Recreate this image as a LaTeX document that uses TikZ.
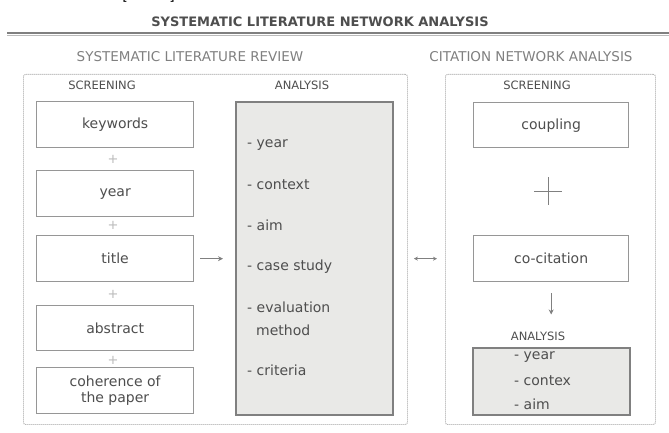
\documentclass[tikz,border=0pt]{standalone}
\usepackage{fontspec}
\setmainfont{DejaVu Sans}
\usetikzlibrary{arrows.meta}
\definecolor{txt}{HTML}{4E4E4E}
\definecolor{head}{HTML}{808080}
\definecolor{boxline}{HTML}{969696}
\definecolor{anafill}{HTML}{E9E9E7}
\definecolor{dotline}{HTML}{A6A6A6}
\definecolor{plusc}{HTML}{BBBBBB}
\tikzset{
  sbox/.style={draw=boxline, line width=1.3pt, minimum width=157pt, minimum height=46pt, anchor=north west, inner sep=1pt, text=txt, font=\fontsize{14}{15.5}\selectfont, align=center},
  anabox/.style={draw=head, fill=anafill, line width=1.6pt, anchor=north west},
  item/.style={anchor=west, inner sep=0pt, text=txt, font=\fontsize{14}{16}\selectfont},
  dotbox/.style={draw=dotline, line width=0.9pt, dash pattern=on 1pt off 1pt, rounded corners=2pt, anchor=north west},
  subhead/.style={text=head, font=\fontsize{13.5}{15}\selectfont, inner sep=0pt},
  smallhead/.style={text=txt, font=\fontsize{11.5}{13}\selectfont, inner sep=0pt},
  plusn/.style={text=plusc, font=\fontsize{13}{13}\selectfont, inner sep=0pt},
  arr/.style={draw=head, line width=1.3pt, -{Stealth[length=5pt,width=5pt]}},
  darr/.style={draw=head, line width=1pt, {Stealth[length=4pt,width=4pt]}-{Stealth[length=4pt,width=4pt]}},
}
\begin{document}
\begin{tikzpicture}[x=1pt,y=-1pt]
\useasboundingbox (0,0) rectangle (669,433);
\fill[white] (0,0) rectangle (669,433);
% cut-off reference brackets at the top
\node[anchor=base, text=black, font=\fontsize{14}{14}\selectfont, inner sep=0pt] (lbr) at (125,0.5) {[};
\node[anchor=base, text=black, font=\fontsize{14}{14}\selectfont, inner sep=0pt] (rbr) at (172,0.5) {]};
% title
\node[text=txt, font=\bfseries\fontsize{13}{14}\selectfont, inner sep=0pt] (title) at (320,22) {SYSTEMATIC LITERATURE NETWORK ANALYSIS};
\draw[draw=head, line width=1.2pt] (7,33) -- (669,33);
\draw[draw=plusc, line width=0.7pt] (7,35.2) -- (669,35.2);
% section headings
\node[subhead] (slr) at (190,57) {SYSTEMATIC LITERATURE REVIEW};
\node[subhead] (cna) at (531,57) {CITATION NETWORK ANALYSIS};
% dotted frames
\node[dotbox, minimum width=384pt, minimum height=350pt] (lbox) at (23,74) {};
\node[dotbox, minimum width=210pt, minimum height=350pt] (rbox) at (445,74) {};
% left screening
\node[smallhead] (scr1) at (102,85) {SCREENING};
\node[smallhead] (ana1) at (302,85) {ANALYSIS};
\node[sbox] (kw) at (36,101) {keywords};
\node[sbox] (yr) at (36,170) {year};
\node[sbox] (ti) at (36,235) {title};
\node[sbox, minimum height=45pt] (ab) at (36,305) {abstract};
\node[sbox] (co) at (36,367) {coherence of\\the paper};
\node[plusn] (p1) at (113,159) {+};
\node[plusn] (p2) at (113,225) {+};
\node[plusn] (p3) at (113,294) {+};
\node[plusn] (p4) at (113,360) {+};
% left analysis box
\node[anabox, minimum width=157pt, minimum height=313pt] (lana) at (235,101) {};
\node[item] (i1) at (247,145) {- year};
\node[item] (i2) at (247,185) {- context};
\node[item] (i3) at (247,225) {- aim};
\node[item] (i4) at (247,267) {- case study};
\node[item] (i5) at (247,307) {- evaluation};
\node[item] (i6) at (256,330) {method};
\node[item] (i7) at (247,370) {- criteria};
\draw[arr, shorten <=6pt, shorten >=12pt] (ti.east) -- (ti.east -| lana.west);
% between the frames
\draw[darr, shorten <=6pt, shorten >=8pt] (ti.east -| lbox.east) -- (ti.east -| rbox.west);
% right screening
\node[smallhead] (scr2) at (537,85) {SCREENING};
\node[sbox, minimum width=155pt, minimum height=45pt] (cp) at (473,102) {coupling};
\draw[draw=head, line width=0.9pt] (548,177) -- (548,205) (534,191) -- (562,191);
\node[sbox, minimum width=155pt, minimum height=46pt] (cc) at (473,235) {co-citation};
\node[smallhead] (ana2) at (538,336) {ANALYSIS};
\draw[arr, shorten <=11pt, shorten >=17pt] (cc.south) -- (cc.south |- ana2.north);
\node[anabox, minimum width=157pt, minimum height=67pt] (rana) at (472,347) {};
\node[item] (j1) at (514,357) {- year};
\node[item] (j2) at (514,381) {- contex};
\node[item] (j3) at (514,404) {- aim};
\end{tikzpicture}
\end{document}
